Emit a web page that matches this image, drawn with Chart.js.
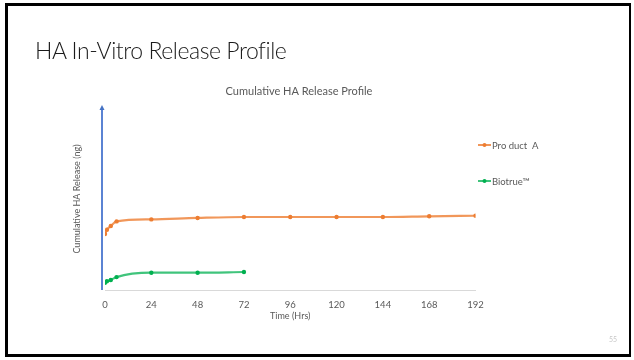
<!DOCTYPE html>
<html>
<head>
<meta charset="utf-8">
<script src="https://cdn.jsdelivr.net/npm/chart.js@4/dist/chart.umd.min.js"></script>
<style>
  html, body { margin: 0; padding: 0; background: #fff; }
  #slide { position: relative; width: 634px; height: 360px; overflow: hidden; background: #fff; }
  #frame { position: absolute; left: 5px; top: 3px; width: 626px; height: 354px; border: 3px solid #000; box-sizing: border-box; border-right-width: 2px; pointer-events: none; }
  #heading { position: absolute; left: 35px; top: 36px; font-family: Lato, "Open Sans", sans-serif; font-weight: 300; font-size: 23px; letter-spacing: -0.45px; color: #1a1a1a; white-space: nowrap; }
  #pageno { position: absolute; left: 609px; top: 335px; font-family: Lato, sans-serif; font-size: 7px; color: #c8c8c8; }
  canvas { position: absolute; left: 0; top: 0; }
</style>
</head>
<body>
<div id="slide">
  <canvas id="chart" width="634" height="360"></canvas>
  <div id="heading">HA In-Vitro Release Profile</div>
  <div id="pageno">55</div>
  <div id="frame"></div>
</div>
<script>
// Sampling times (hours)
const productTimes = [0, 1, 3, 6, 24, 48, 72, 96, 120, 144, 168, 192];
const biotrueTimes = [0, 1, 3, 6, 24, 48, 72];
// Cumulative HA release (relative units, axis carries no tick values)
const productValues = [30.8, 33.1, 35.2, 37.7, 38.8, 39.6, 40.1, 40.1, 40.1, 40.1, 40.5, 40.8];
const biotrueValues = [4.0, 4.8, 5.5, 7.1, 9.5, 9.5, 9.9];
// Axis tick labels
const timeTicks = [0, 24, 48, 72, 96, 120, 144, 168, 192];
const seriesNames = ["Pro duct  A", "Biotrue\u2122"];
const chartTitle = "Cumulative HA Release Profile";

const FONT = 'Lato, "Open Sans", sans-serif';
const TEXT_GREY = '#595959';

const toPoints = (xs, ys) => xs.map((x, i) => ({ x: x, y: ys[i] }));

// Chart title, right-hand legend and the blue value axis arrow
const decorations = {
  id: 'decorations',
  afterDraw(chart) {
    const ctx = chart.ctx;
    const area = chart.chartArea;
    ctx.save();

    // title
    ctx.fillStyle = TEXT_GREY;
    ctx.font = '11px ' + FONT;
    ctx.textAlign = 'center';
    ctx.textBaseline = 'middle';
    ctx.fillText(chartTitle, 299, 91);

    // vertical axis with arrow head
    const ax = area.left - 3;
    ctx.strokeStyle = '#5b83d3';
    ctx.lineWidth = 2;
    ctx.beginPath();
    ctx.moveTo(ax, area.bottom);
    ctx.lineTo(ax, area.top + 1);
    ctx.stroke();
    ctx.fillStyle = '#4472c4';
    ctx.beginPath();
    ctx.moveTo(ax, area.top - 3);
    ctx.lineTo(ax - 2.5, area.top + 2);
    ctx.lineTo(ax + 2.5, area.top + 2);
    ctx.closePath();
    ctx.fill();

    // legend
    const rows = [145, 181];
    chart.data.datasets.forEach((ds, i) => {
      const y = rows[i];
      ctx.strokeStyle = ds.borderColor;
      ctx.lineWidth = 2;
      ctx.beginPath();
      ctx.moveTo(478, y);
      ctx.lineTo(491, y);
      ctx.stroke();
      ctx.fillStyle = ds.pointBackgroundColor;
      ctx.beginPath();
      ctx.arc(484.5, y, 2, 0, Math.PI * 2);
      ctx.fill();
      ctx.fillStyle = TEXT_GREY;
      ctx.font = '9.5px ' + FONT;
      ctx.textAlign = 'left';
      ctx.textBaseline = 'middle';
      ctx.fillText(ds.label, 492, y + 0.5);
    });
    ctx.restore();
  }
};

new Chart(document.getElementById('chart'), {
  type: 'line',
  data: {
    datasets: [
      {
        label: seriesNames[0],
        data: toPoints(productTimes, productValues),
        borderColor: 'rgba(237,125,49,0.8)',
        pointBackgroundColor: '#ed7d31',
        pointBorderColor: '#ed7d31',
        borderWidth: 2.2,
        pointRadius: 2.2,
        pointBorderWidth: 0,
        cubicInterpolationMode: 'monotone'
      },
      {
        label: seriesNames[1],
        data: toPoints(biotrueTimes, biotrueValues),
        borderColor: 'rgba(0,176,80,0.75)',
        pointBackgroundColor: '#00b050',
        pointBorderColor: '#00b050',
        borderWidth: 2.2,
        pointRadius: 2.2,
        pointBorderWidth: 0,
        cubicInterpolationMode: 'monotone'
      }
    ]
  },
  options: {
    responsive: false,
    animation: false,
    events: [],
    layout: { padding: { left: 68, right: 158.5, top: 108, bottom: 34.6 } },
    plugins: { legend: { display: false }, title: { display: false }, tooltip: { enabled: false } },
    scales: {
      x: {
        type: 'linear',
        min: 0,
        max: 192,
        afterBuildTicks: s => { s.ticks = timeTicks.map(v => ({ value: v })); },
        afterFit: s => { s.height = 35.4; },
        grid: { display: false, drawTicks: false },
        border: { display: true, color: '#d9d9d9', width: 1 },
        ticks: { color: TEXT_GREY, font: { family: FONT, size: 9.5 }, padding: 9.5, maxRotation: 0 },
        title: { display: true, text: 'Time (Hrs)', color: TEXT_GREY, font: { family: FONT, size: 9 }, padding: { top: 0, bottom: 4 } }
      },
      y: {
        min: 0,
        max: 100,
        afterFit: s => { s.width = 37; },
        grid: { display: false, drawTicks: false },
        border: { display: false },
        ticks: { display: false },
        title: { display: true, text: 'Cumulative HA Release (ng)', color: TEXT_GREY, font: { family: FONT, size: 9 }, padding: { top: 4, bottom: 0 } }
      }
    }
  },
  plugins: [decorations]
});
</script>
</body>
</html>
